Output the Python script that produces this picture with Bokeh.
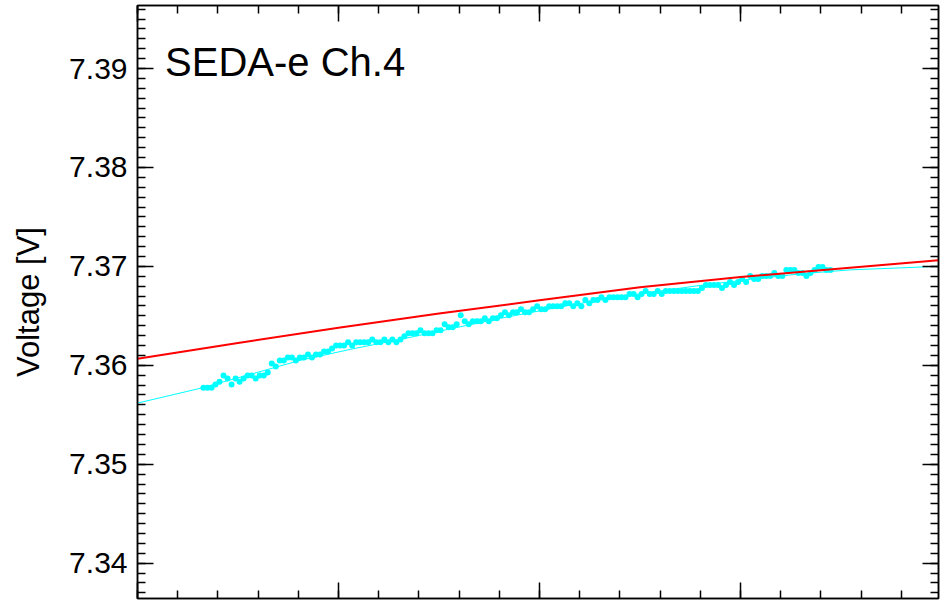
import numpy as np
from bokeh.plotting import figure
from bokeh.models import (LinearAxis, SingleIntervalTicker, PrintfTickFormatter,
                          CustomJSTickFormatter, Label, Range1d, ColumnDataSource)
from bokeh.embed import file_html
from bokeh.resources import INLINE

# ---------------- data ----------------
title_text = "SEDA-e Ch.4"
y_label = "Voltage [V]"

# measured samples (time grid, evenly sampled)
t_start = 3.28
t_step = 0.2
voltage = [
    7.35774, 7.35774, 7.35774, 7.35805, 7.35835, 7.35896, 7.35866, 7.35805, 7.35866, 7.35835,
    7.35866, 7.35896, 7.35896, 7.35866, 7.35896, 7.35896, 7.35927, 7.36018, 7.35988, 7.36049,
    7.36049, 7.36079, 7.36079, 7.36049, 7.36079, 7.36079, 7.36110, 7.36079, 7.36110, 7.36110,
    7.36140, 7.36140, 7.36171, 7.36201, 7.36201, 7.36201, 7.36232, 7.36201, 7.36232, 7.36232,
    7.36232, 7.36232, 7.36262, 7.36232, 7.36232, 7.36262, 7.36232, 7.36262, 7.36232, 7.36262,
    7.36293, 7.36323, 7.36323, 7.36323, 7.36354, 7.36323, 7.36323, 7.36323, 7.36354, 7.36354,
    7.36415, 7.36384, 7.36384, 7.36415, 7.36506, 7.36445, 7.36415, 7.36445, 7.36445, 7.36445,
    7.36476, 7.36445, 7.36476, 7.36476, 7.36506, 7.36537, 7.36506, 7.36537, 7.36537, 7.36567,
    7.36537, 7.36537, 7.36567, 7.36598, 7.36567, 7.36567, 7.36598, 7.36598, 7.36598, 7.36598,
    7.36628, 7.36628, 7.36598, 7.36628, 7.36598, 7.36659, 7.36628, 7.36659, 7.36659, 7.36689,
    7.36659, 7.36689, 7.36689, 7.36689, 7.36689, 7.36689, 7.36720, 7.36720, 7.36689, 7.36720,
    7.36750, 7.36720, 7.36720, 7.36750, 7.36720, 7.36750, 7.36750, 7.36750, 7.36750, 7.36750,
    7.36750, 7.36750, 7.36750, 7.36750, 7.36781, 7.36811, 7.36811, 7.36811, 7.36811, 7.36781,
    7.36811, 7.36842, 7.36811, 7.36842, 7.36872, 7.36842, 7.36903, 7.36872, 7.36872, 7.36903,
    7.36903, 7.36903, 7.36933, 7.36903, 7.36903, 7.36964, 7.36964, 7.36964, 7.36933, 7.36933,
    7.36903, 7.36933, 7.36964, 7.36994, 7.36994, 7.36964, 7.36964,
]
t_samples = [round(t_start + t_step * i, 2) for i in range(len(voltage))]

# fitted curve through the samples (cyan)
fit_t = [0, 3.11, 5.60, 8.09, 10.58, 13.07, 15.56, 18.05, 20.54, 23.03, 25.52,
         28.01, 30.50, 32.99, 35.48, 37.97, 39.85]
fit_v = [7.35618, 7.35767, 7.35908, 7.36050, 7.36161, 7.36262, 7.36368, 7.36475,
         7.36571, 7.36662, 7.36738, 7.36808, 7.36869, 7.36925, 7.36965, 7.36985, 7.37001]

# model curve (red)
model_t = [0, 5, 10, 15, 20, 25, 30, 35, 39.85]
model_v = [7.36067, 7.36226, 7.36379, 7.36524, 7.36657, 7.36790, 7.36892, 7.36978, 7.37061]

# ---------------- figure ----------------
FONT = "Liberation Sans"

p = figure(width=941, height=600, output_backend="svg", toolbar_location=None,
           x_range=Range1d(0, 39.85), y_range=Range1d(7.33643, 7.39637),
           x_axis_location=None, y_axis_location=None,
           min_border_left=137, min_border_right=3, min_border_top=5, min_border_bottom=2)
p.grid.visible = False
p.background_fill_color = "white"
p.border_fill_color = "white"
p.outline_line_color = "black"
p.outline_line_width = 1.5


def style_axis(ax):
    ax.axis_line_width = 1.5
    ax.axis_line_color = "black"
    ax.major_tick_in = 16
    ax.major_tick_out = 0
    ax.minor_tick_in = 8
    ax.minor_tick_out = 0
    ax.major_tick_line_width = 1.5
    ax.minor_tick_line_width = 1.5
    ax.major_tick_line_color = "black"
    ax.minor_tick_line_color = "black"


def y_ticker():
    return SingleIntervalTicker(interval=0.01, num_minor_ticks=10)


def x_ticker():
    return SingleIntervalTicker(interval=10, num_minor_ticks=5)


blank = "return ''"

left = LinearAxis(ticker=y_ticker(), formatter=PrintfTickFormatter(format="%.2f"),
                  axis_label=y_label)
style_axis(left)
left.major_label_text_font = FONT
left.major_label_text_font_size = "30px"
left.major_label_text_color = "black"
left.major_label_standoff = 10
left.axis_label_text_font = FONT
left.axis_label_text_font_size = "31px"
left.axis_label_text_font_style = "normal"
left.axis_label_text_color = "black"
left.axis_label_standoff = 20
p.add_layout(left, "left")

right = LinearAxis(ticker=y_ticker(), formatter=CustomJSTickFormatter(code=blank))
style_axis(right)
right.major_label_standoff = 0
p.add_layout(right, "right")

bottom = LinearAxis(ticker=x_ticker(), formatter=CustomJSTickFormatter(code=blank))
style_axis(bottom)
bottom.major_label_standoff = 0
p.add_layout(bottom, "below")

top = LinearAxis(ticker=x_ticker(), formatter=CustomJSTickFormatter(code=blank))
style_axis(top)
top.major_label_standoff = 0
p.add_layout(top, "above")

src = ColumnDataSource(dict(t=t_samples, v=voltage))
p.scatter("t", "v", source=src, size=6, marker="circle",
          fill_color="#00ffff", line_color=None)
p.line(fit_t, fit_v, line_color="#00ffff", line_width=1)
p.line(model_t, model_v, line_color="#ff0000", line_width=2)

p.add_layout(Label(x=1.37, y=7.39064, text=title_text, text_font=FONT,
                   text_font_size="40px", text_color="black",
                   text_baseline="alphabetic", text_align="left"))

open("out.html", "w").write(file_html(p, INLINE))
